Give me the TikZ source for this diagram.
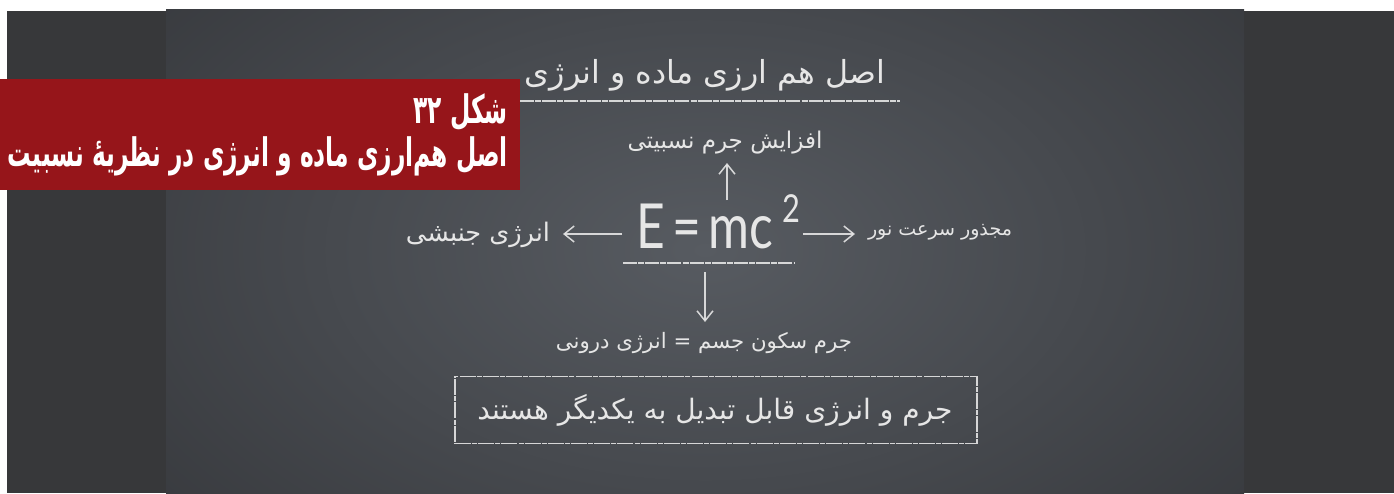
\documentclass[tikz,border=0pt]{standalone}
\usepackage{fontspec}
\usepackage{graphicx}
\usetikzlibrary{arrows.meta,calc}
\TeXXeTstate=1
\newfontfamily\arabicfont[Script=Arabic]{DejaVu Sans}
\newfontfamily\latofont{Lato}
\newcommand{\fatext}[1]{{\arabicfont\beginR #1\endR}}
\newcommand{\fitw}[2]{\resizebox{#1}{!}{#2}}
\definecolor{panel}{HTML}{37383A}
\definecolor{boardlight}{HTML}{575B61}
\definecolor{boarddark}{HTML}{36383C}
\definecolor{boardbase}{HTML}{45484D}
\definecolor{figred}{HTML}{96151A}
\definecolor{chalk}{HTML}{E6E6E6}
\tikzset{
  chalktext/.style={inner sep=0pt, text=chalk},
  chalkline/.style={draw=chalk, line width=1.6pt, opacity=0.9, dash pattern=on 14pt off 1.2pt on 6pt off 1pt},
  chalkarrow/.style={draw=chalk, line width=1.5pt, opacity=0.9, -{Straight Barb[length=10pt,width=16pt]}},
  chalkbox/.style={draw=chalk, line width=1.8pt, opacity=0.9, dash pattern=on 16pt off 1.2pt on 5pt off 1pt, inner sep=0pt},
  redbox/.style={fill=figred, inner sep=0pt, minimum width=520pt, minimum height=111pt},
}
\begin{document}
\begin{tikzpicture}[x=1pt,y=-1pt]
\useasboundingbox (0,0) rectangle (1394,493);
\fill[white] (0,0) rectangle (1394,493);
\fill[panel] (7,11) rectangle (1394,493);
% chalkboard
\fill[boardbase] (166,9) rectangle (1244,493);
\begin{scope}
  \clip (166,9) rectangle (1244,493);
  \shade[inner color=boardlight, outer color=boarddark] (705,250) ellipse [x radius=760, y radius=460];
\end{scope}

% title
\node[chalktext] (title) at (705,75) {\fitw{360pt}{\fatext{اصل هم ارزی ماده و انرژی}}};
\draw[chalkline] (520,101) -- (900,101);

% mass increase
\node[chalktext] (massinc) at (725,143) {\fitw{195pt}{\fatext{افزایش جرم نسبیتی}}};

% formula
\node[chalktext, anchor=north] (emc) at (718,194) {\resizebox{164pt}{54pt}{\latofont E\hspace{0.15em}=\hspace{0.15em}mc\hspace{0.18em}\raisebox{0.42em}{\scalebox{0.62}{2}}}};
\draw[chalkline] (623,263) -- (795,263);

% side labels
\node[chalktext] (kin) at (478,235) {\fitw{144pt}{\fatext{انرژی جنبشی}}};
\node[chalktext] (light) at (940,232) {\fitw{144pt}{\fatext{مجذور سرعت نور}}};

% rest mass
\node[chalktext] (rest) at (704,343) {\fitw{296pt}{\fatext{جرم سکون جسم = انرژی درونی}}};

% conclusion box
\node[chalkbox, minimum width=522pt, minimum height=67pt] (boxframe) at (716,410) {};
\node[chalktext] (concl) at (715,410) {\fitw{475pt}{\fatext{جرم و انرژی قابل تبدیل به یکدیگر هستند}}};

% arrows
\coordinate (upS) at (727,200);
\coordinate (upE) at (727,163);
\coordinate (dnS) at (705,272);
\coordinate (dnE) at (705,322);
\coordinate (lfS) at (622,234);
\coordinate (lfE) at (563,234);
\coordinate (rtS) at (803,234);
\coordinate (rtE) at (855,234);
\draw[chalkarrow] (upS) -- (upE);
\draw[chalkarrow] (dnS) -- (dnE);
\draw[chalkarrow] (lfS) -- (lfE);
\draw[chalkarrow] (rtS) -- (rtE);

% caption
\node[redbox] (capbox) at (260,134.5) {};
\node[anchor=north east, inner sep=0pt, text=white] (captext) at (508,90)
  {\resizebox{500pt}{55pt}{\begin{tabular}{@{}r@{}}\arabicfont\bfseries\beginR شکل \beginL ۳۲\endL\endR\\[-1pt]
  \arabicfont\bfseries\beginR اصل هم‌ارزی ماده و انرژی در نظریهٔ نسبیت\endR\end{tabular}}};
\end{tikzpicture}
\end{document}
